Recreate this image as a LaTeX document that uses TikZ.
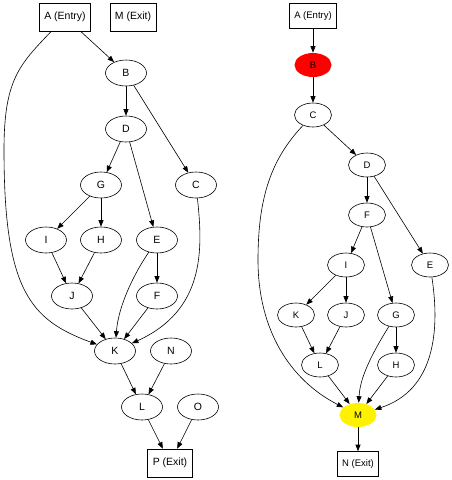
\documentclass[tikz,border=0pt]{standalone}
\usepackage{fontspec}
\setmainfont{Liberation Sans}
\usetikzlibrary{shapes.geometric,arrows.meta}

\begin{document}
\begin{tikzpicture}[x=1pt,y=-1pt,>={Triangle[length=6.5pt,width=5pt]},line width=0.6pt,
    main/.style={draw, ellipse, minimum width=41pt, minimum height=26pt, inner sep=0pt, font=\fontsize{10.5}{12}\selectfont},
    box/.style={draw, rectangle, minimum height=28pt, inner xsep=5pt, font=\fontsize{10.5}{12}\selectfont},
    small/.style={main, minimum width=37pt, minimum height=24pt, font=\fontsize{9.5}{11}\selectfont},
    smallbox/.style={box, minimum height=25pt, inner xsep=4.5pt, font=\fontsize{9.5}{11}\selectfont}]
            \useasboundingbox (0,0) rectangle (452,480);
            % left graph
            \node[box] (A) at (65,17) {A (Entry)};
            \node[box] (M) at (133,17) {M (Exit)};
            \node[main] (B) at (126,73) {B};
            \node[main] (D) at (126,129) {D};
            \node[main] (G) at (101,185) {G};
            \node[main] (C) at (196,185) {C};
            \node[main] (I) at (46,240) {I};
            \node[main] (H) at (101,240) {H};
            \node[main] (E) at (157,240) {E};
            \node[main] (J) at (72,296) {J};
            \node[main] (F) at (157,296) {F};
            \node[main] (K) at (115,351) {K};
            \node[main] (N) at (171,351) {N};
            \node[main] (L) at (142,407) {L};
            \node[main] (O) at (198,407) {O};
            \node[box] (P) at (170,463) {P (Exit)};

            \draw[->] (A) -- (B);
            \draw[->] (A) .. controls (19,65) and (4,80) .. (4,150) .. controls (4,290) and (30,320) .. (K);
            \draw[->] (B) -- (D);
            \draw[->] (B) -- (C);
            \draw[->] (D) -- (G);
            \draw[->] (D) -- (E);
            \draw[->] (G) -- (I);
            \draw[->] (G) -- (H);
            \draw[->] (I) -- (J);
            \draw[->] (H) -- (J);
            \draw[->] (E) -- (F);
            \draw[->] (E) .. controls (130,280) and (118,310) .. (K);
            \draw[->] (C) .. controls (203,250) and (205,310) .. (K);
            \draw[->] (J) -- (K);
            \draw[->] (F) -- (K);
            \draw[->] (K) -- (L);
            \draw[->] (N) -- (L);
            \draw[->] (L) -- (P);
            \draw[->] (O) -- (P);

            % right graph
            \node[smallbox] (A2) at (313,16) {A (Entry)};
            \node[small, draw=none, fill=red] (B2) at (313,65) {B};
            \node[small] (C2) at (313,115) {C};
            \node[small] (D2) at (367,165) {D};
            \node[small] (F2) at (367,215) {F};
            \node[small] (I2) at (346,265) {I};
            \node[small] (E2) at (430,265) {E};
            \node[small] (K2) at (296,315) {K};
            \node[small] (J2) at (346,315) {J};
            \node[small] (G2) at (396,315) {G};
            \node[small] (L2) at (320,365) {L};
            \node[small] (H2) at (396,365) {H};
            \node[small, draw=none, fill=yellow] (M2) at (358,415) {M};
            \node[smallbox] (N2) at (358,464) {N (Exit)};

            \draw[->] (A2) -- (B2);
            \draw[->] (B2) -- (C2);
            \draw[->] (C2) -- (D2);
            \draw[->] (C2) .. controls (270,160) and (258,200) .. (258,260) .. controls (258,330) and (290,380) .. (M2);
            \draw[->] (D2) -- (F2);
            \draw[->] (D2) -- (E2);
            \draw[->] (F2) -- (I2);
            \draw[->] (F2) -- (G2);
            \draw[->] (I2) -- (K2);
            \draw[->] (I2) -- (J2);
            \draw[->] (K2) -- (L2);
            \draw[->] (J2) -- (L2);
            \draw[->] (L2) -- (M2);
            \draw[->] (G2) .. controls (368,360) and (360,380) .. (M2);
            \draw[->] (G2) -- (H2);
            \draw[->] (H2) -- (M2);
            \draw[->] (E2) .. controls (440,330) and (435,390) .. (M2);
            \draw[->] (M2) -- (N2);
\end{tikzpicture}
\end{document}
